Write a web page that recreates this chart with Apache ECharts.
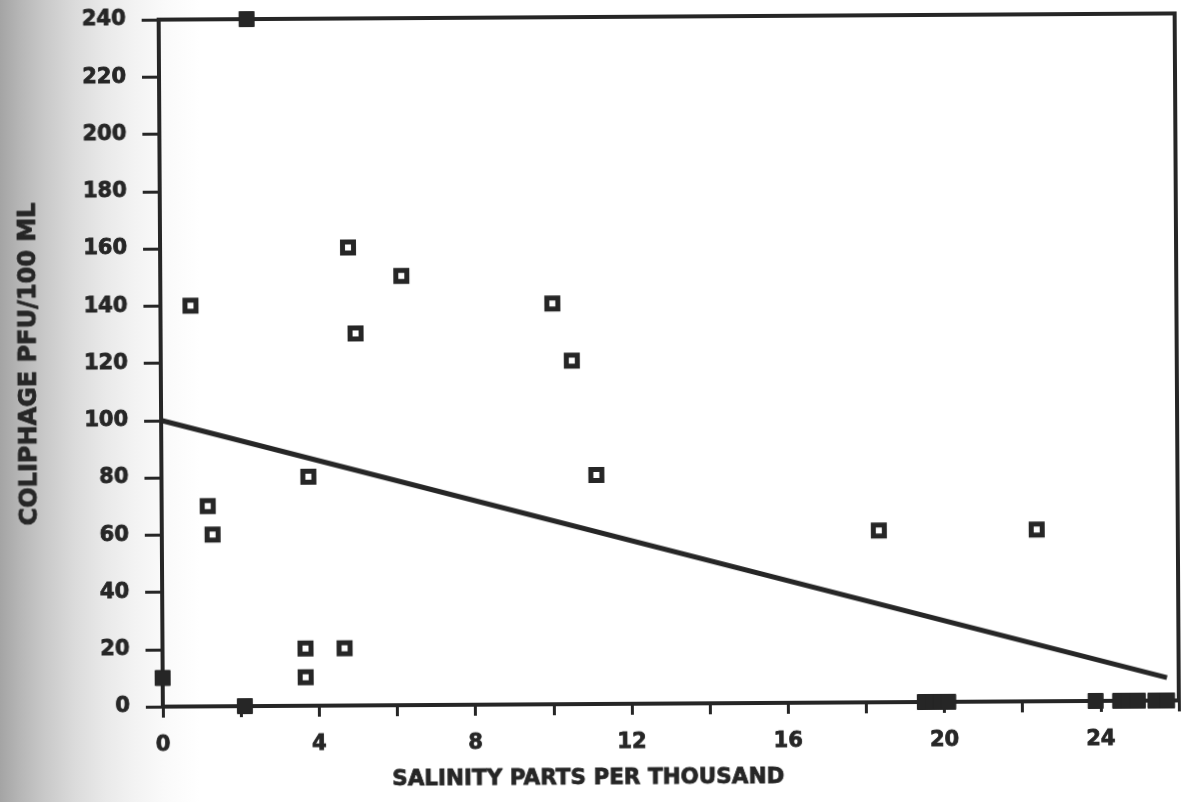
<!DOCTYPE html>
<html>
<head>
<meta charset="utf-8">
<script src="https://cdn.jsdelivr.net/npm/echarts@6/dist/echarts.min.js"></script>
<style>
  html, body { margin: 0; padding: 0; background: #ffffff; }
  #page { width: 1189px; height: 802px; overflow: hidden;
          background: linear-gradient(to right, #a4a4a4 0px, #b6b6b6 20px, #c9c9c9 45px, #dbdbdb 75px, #e9e9e9 105px, #f3f3f3 135px, #fafafa 165px, #ffffff 200px); }
  #chart { width: 1189px; height: 802px; transform: rotate(-0.35deg); transform-origin: 50% 50%; }
</style>
</head>
<body>
<div id="page"><div id="chart"></div></div>
<script>
// Salinity (parts per thousand) of each sample
const salinity = [0, 2.1, 2.25, 0.77, 1.18, 1.3, 3.66, 3.66, 4.66, 3.76, 4.81, 4.99, 6.17, 10.03, 10.52, 11.13, 18.35, 22.39,
                  19.5, 19.7, 19.9, 20.1, 23.87, 24.5, 24.7, 24.95, 25.4, 25.7];
// Coliphage count (PFU per 100 mL) for the same samples
const coliphage = [10, 0, 240, 140, 70, 60, 20, 10, 20, 80, 160, 130, 150, 140, 120, 80, 60, 60,
                   0, 0, 0, 0, 0, 0, 0, 0, 0, 0];
// Least-squares fit through the samples
const fitX = [0, 25.7];
const fitY = [100, 8];
// Axis tick labels
const xTickLabels = ['0', '4', '8', '12', '16', '20', '24'];
const yTickLabels = ['0', '20', '40', '60', '80', '100', '120', '140', '160', '180', '200', '220', '240'];

const ink = '#262626';
const font = 'DejaVu Sans';
// Heavy lettering: bold face plus a thin outline in the same ink
const heavy = { fontFamily: font, fontWeight: 'bold', color: ink, textBorderColor: ink, textBorderWidth: 0.8 };

// Samples sitting on the frame lines print as solid blocks
const onFrame = (x, y) => x === 0 || y === 0 || y === 240;
const openPts = [], solidPts = [];
salinity.forEach((x, i) => {
  const p = [x, coliphage[i]];
  (onFrame(x, coliphage[i]) ? solidPts : openPts).push(p);
});

const chart = echarts.init(document.getElementById('chart'), null, { renderer: 'canvas' });
chart.setOption({
  backgroundColor: 'transparent',
  animation: false,
  grid: { left: 161, right: 12, top: 17, bottom: 98, show: true, borderColor: ink, borderWidth: 4, backgroundColor: 'transparent' },
  xAxis: {
    type: 'value', min: 0, max: 26, interval: 2,
    name: 'SALINITY PARTS PER THOUSAND', nameLocation: 'middle', nameGap: 63,
    nameTextStyle: Object.assign({ fontSize: 21.5, padding: [0, 166, 0, 0] }, heavy),
    axisLine: { show: true, lineStyle: { color: ink, width: 4 } },
    axisTick: { show: true, length: 11, lineStyle: { color: ink, width: 3 } },
    axisLabel: Object.assign({
      margin: 28, fontSize: 21,
      formatter: v => (xTickLabels.indexOf(String(v)) >= 0 ? String(v) : '')
    }, heavy),
    splitLine: { show: false }
  },
  yAxis: {
    type: 'value', min: 0, max: 240, interval: 20,
    name: 'COLIPHAGE PFU/100 ML', nameLocation: 'middle', nameGap: 119, nameRotate: 90,
    nameTextStyle: Object.assign({ fontSize: 24 }, heavy),
    axisLine: { show: true, lineStyle: { color: ink, width: 4 } },
    axisTick: { show: true, length: 17, lineStyle: { color: ink, width: 3 } },
    axisLabel: Object.assign({
      margin: 33, fontSize: 21,
      formatter: v => (yTickLabels.indexOf(String(v)) >= 0 ? String(v) : '')
    }, heavy),
    splitLine: { show: false }
  },
  series: [
    {
      type: 'line', data: fitX.map((x, i) => [x, fitY[i]]),
      symbol: 'none', lineStyle: { color: ink, width: 5 }, z: 3
    },
    {
      type: 'scatter', data: openPts, symbol: 'rect', symbolSize: 11,
      itemStyle: { color: '#ffffff', borderColor: ink, borderWidth: 5, opacity: 1 }, z: 5
    },
    {
      type: 'scatter', data: solidPts, symbol: 'rect', symbolSize: 15,
      itemStyle: { color: ink, borderColor: ink, borderWidth: 1, opacity: 1 }, z: 5
    }
  ]
});
</script>
</body>
</html>
